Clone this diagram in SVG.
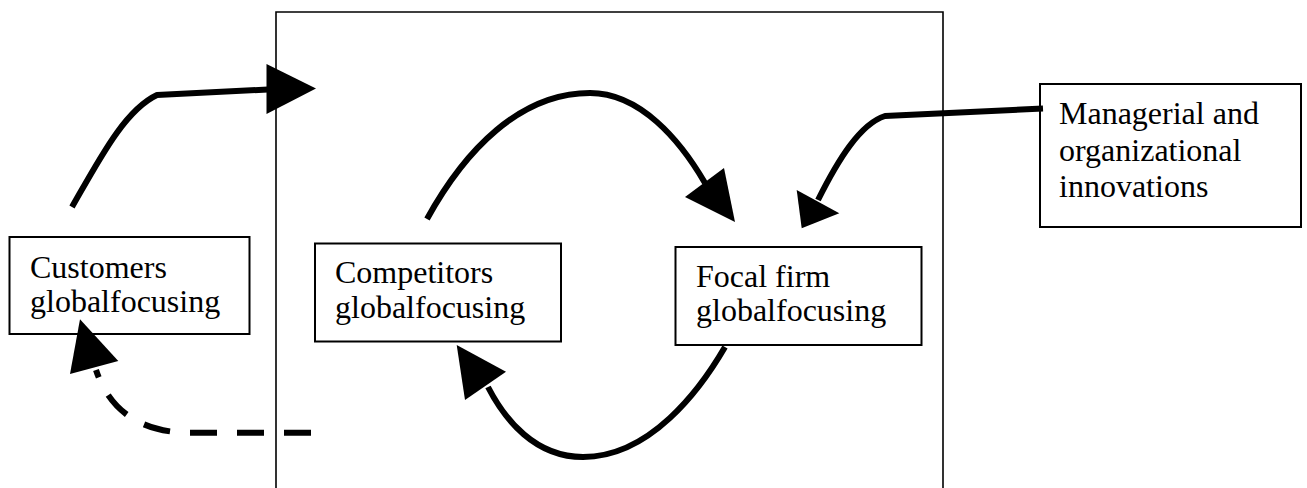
<svg xmlns="http://www.w3.org/2000/svg" width="1307" height="488" viewBox="0 0 1307 488">
<style>
.box{fill:#fff;stroke:#000;stroke-width:2}
.frame{fill:none;stroke:#000;stroke-width:1.6}
.lbl{font-family:"Liberation Serif","Times New Roman",serif;font-size:32px;fill:#000}
.conn{fill:none;stroke:#000;stroke-width:6;stroke-linecap:butt;stroke-linejoin:round}
.dash{stroke-dasharray:27 20}
.head{fill:#000;stroke:none}
</style>
<rect x="0" y="0" width="1307" height="488" fill="#fff"/>
<g id="frame">
<path class="frame" d="M276,500 V12 H943 V500"/>
</g>
<g id="customers">
<rect class="box" x="9.5" y="237" width="240" height="97"/>
<text class="lbl" x="30" y="278">Customers</text>
<text class="lbl" x="30" y="312">globalfocusing</text>
</g>
<g id="competitors">
<rect class="box" x="315" y="243.5" width="246" height="98"/>
<text class="lbl" x="335" y="283">Competitors</text>
<text class="lbl" x="335" y="318">globalfocusing</text>
</g>
<g id="focal">
<rect class="box" x="675.5" y="247" width="246" height="98"/>
<text class="lbl" x="696" y="287">Focal firm</text>
<text class="lbl" x="696" y="321">globalfocusing</text>
</g>
<g id="managerial">
<rect class="box" x="1040" y="84" width="261" height="143"/>
<text class="lbl" x="1059" y="124">Managerial and</text>
<text class="lbl" x="1059" y="160.5">organizational</text>
<text class="lbl" x="1059" y="197">innovations</text>
</g>
<g id="connectors">
<path class="conn" d="M72,207 C100,158 125,110 157,95 L268,89.5"/>
<polygon class="head" points="266.5,64 266.5,114 316,88.5"/>
<path class="conn" d="M427,219 C465,150 520,93 590,93 C640,93 680,140 705,183"/>
<polygon class="head" points="735,222 685,197 724,168"/>
<path class="conn" d="M1043,108.5 L885,116 C860,124 838,160 818,200"/>
<polygon class="head" points="801.7,228.3 796.7,190 839.3,213.3"/>
<path class="conn" d="M725,347 C700,390 650,457 583,457 C535,457 505,420 488,387"/>
<polygon class="head" points="456.7,345 465,400 506,371.7"/>
<path class="conn dash" d="M311,432.7 L190,432.7 C150,432.7 112,418 96,370"/>
<polygon class="head" points="80,319.3 70,374 118.3,361"/>
</g>
</svg>
